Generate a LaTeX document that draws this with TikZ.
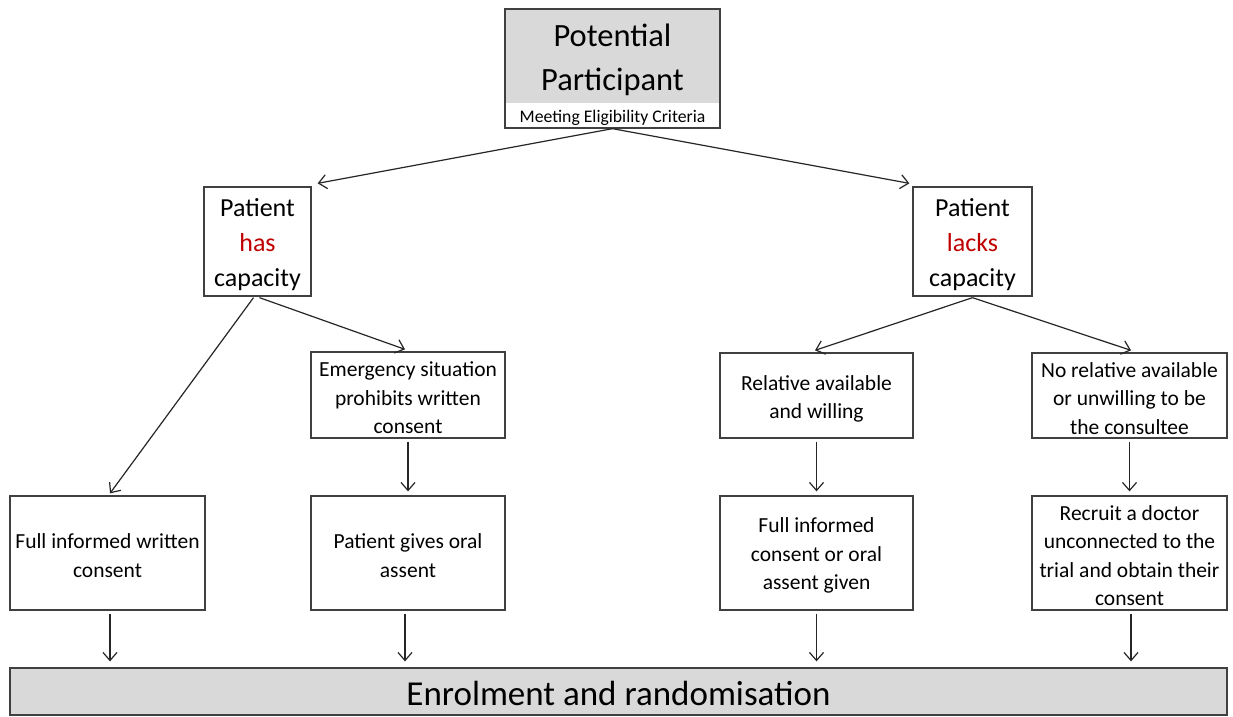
\documentclass[tikz,border=0pt]{standalone}
\usepackage{fontspec}
\setmainfont{Carlito}
\usetikzlibrary{arrows.meta,calc}
\definecolor{boxgray}{HTML}{D9D9D9}
\definecolor{capred}{HTML}{C00000}
\definecolor{edgecol}{HTML}{404040}
\newcommand\mystrut[1]{\rule{0pt}{#1}}
\tikzset{
 box/.style={draw=edgecol, line width=1.3pt, inner sep=0pt, align=center, font=\fontsize{21.5}{28.5}\selectfont},
 capbox/.style={box, font=\fontsize{26}{35}\selectfont},
 arr/.style={line width=1.2pt, draw=black!85, -{Straight Barb[length=8pt,width=14pt]}},
}
\begin{document}
\begin{tikzpicture}[x=1pt,y=-1pt]
\useasboundingbox[fill=white] (0,0) rectangle (1233,716);
% top box
\fill[boxgray] (505,9) rectangle (720,103);
\node[draw=edgecol, line width=1.3pt, minimum width=215, minimum height=119, inner sep=0pt] (top) at (612.5,68.5) {};
\node[font=\fontsize{32.5}{44}\selectfont, align=center] (title) at (612.5,59.5) {Potential\\Participant};
\node[font=\fontsize{17.7}{20}\selectfont] (meet) at (612.5,117.5) {Meeting Eligibility Criteria};
% capacity boxes
\node[capbox, minimum width=107, minimum height=109] (has) at (257.5,241.5) {\mystrut{25pt}Patient\\\textcolor{capred}{has}\\capacity};
\node[capbox, minimum width=119, minimum height=109] (lacks) at (972.5,241.5) {\mystrut{25pt}Patient\\\textcolor{capred}{lacks}\\capacity};
% middle row
\node[box, minimum width=194, minimum height=86] (emerg) at (408,395) {\mystrut{21pt}Emergency situation\\prohibits written\\consent};
\node[box, minimum width=193, minimum height=85] (rel) at (816.5,395.5) {\mystrut{22pt}Relative available\\and willing};
\node[box, minimum width=195, minimum height=85] (norel) at (1129.5,395.5) {\mystrut{21pt}No relative available\\or unwilling to be\\the consultee};
% bottom row
\node[box, minimum width=195, minimum height=114] (fiw) at (107.5,553) {\mystrut{20pt}Full informed written\\consent};
\node[box, minimum width=194, minimum height=114] (oral) at (408,553) {\mystrut{20pt}Patient gives oral\\assent};
\node[box, minimum width=193, minimum height=114] (fic) at (816.5,553) {\mystrut{20pt}Full informed\\consent or oral\\assent given};
\node[box, minimum width=195, minimum height=114] (rec) at (1129.5,553) {\mystrut{20pt}Recruit a doctor\\unconnected to the\\trial and obtain their\\consent};
% enrolment
\node[box, fill=boxgray, minimum width=1217, minimum height=47, font=\fontsize{35}{40}\selectfont] (enrol) at (618.5,691.5) {\mystrut{28pt}Enrolment and randomisation};
% arrows
\draw[arr] (top.south) -- ([xshift=6pt,yshift=3pt]has.north east);
\draw[arr] (top.south) -- ([xshift=-3pt,yshift=3pt]lacks.north west);
\draw[arr] ([xshift=-4pt,yshift=-1pt]has.south) -- ([xshift=2.5pt,yshift=2pt]fiw.north);
\draw[arr] ([xshift=2pt,yshift=-1pt]has.south) -- ([xshift=-3pt,yshift=2pt]emerg.north);
\draw[arr] ([yshift=-1pt]lacks.south) -- ([xshift=-1.5pt,yshift=2pt]rel.north);
\draw[arr] ([yshift=-1pt]lacks.south) -- ([xshift=1.5pt,yshift=2pt]norel.north);
\foreach \a/\b in {emerg/oral, rel/fic, norel/rec}{
  \draw[arr] ([yshift=-3pt]\a.south) -- ([yshift=4pt]\b.north);
}
\foreach \a/\dx in {fiw/2.5, oral/-3, fic/0, rec/1.5}{
  \draw[arr] ([xshift=\dx pt,yshift=-3pt]\a.south) -- ([xshift=\dx pt,yshift=6pt]\a.south |- enrol.north);
}
\end{tikzpicture}
\end{document}
